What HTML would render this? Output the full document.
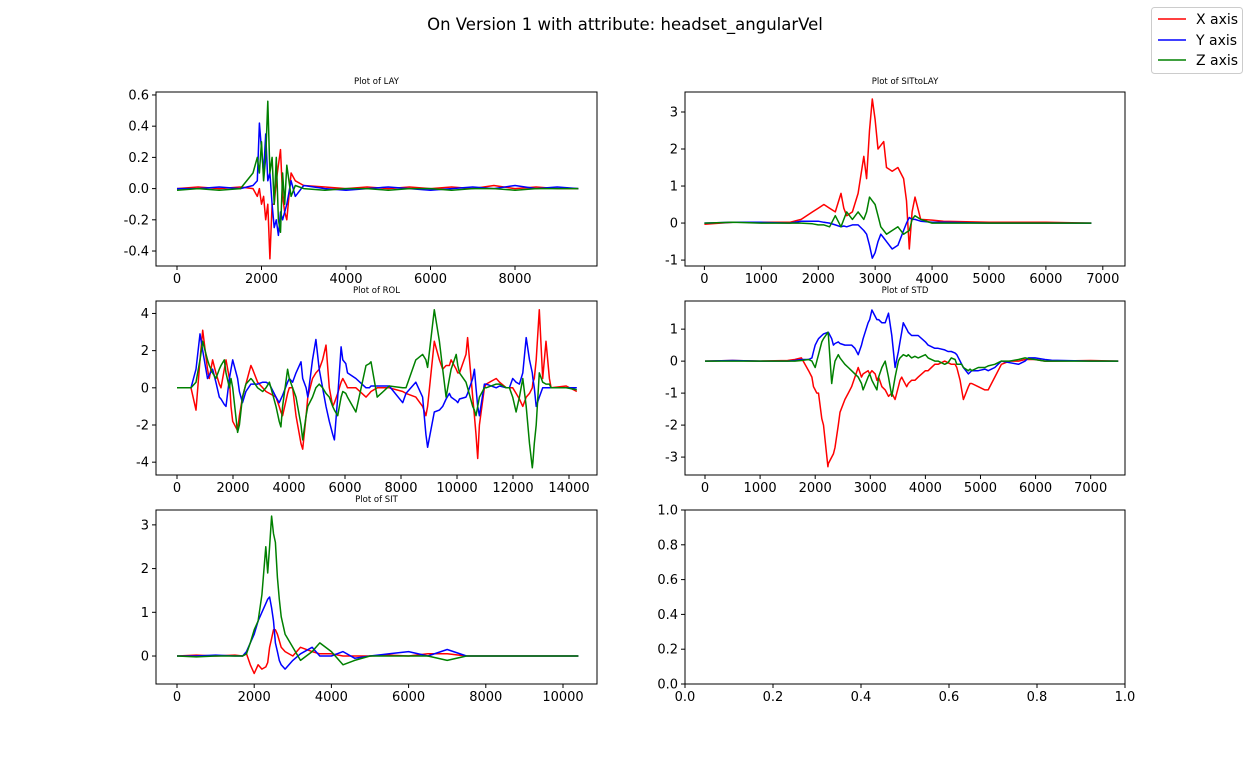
<!DOCTYPE html>
<html><head><meta charset="utf-8">
<style>
body{margin:0;background:#fff;}
svg{display:block;font-family:"DejaVu Sans","Liberation Sans",sans-serif;}
</style></head>
<body>
<svg id="fig" width="1250" height="768" viewBox="0 0 1250 768">
<text x="625" y="30" text-anchor="middle" font-size="16.5">On Version 1 with attribute: headset_angularVel</text>
<g>
<rect x="1151.5" y="7.5" width="91" height="66" rx="3" fill="#fff" stroke="#ccc"/>
<line x1="1158" y1="19" x2="1186" y2="19" stroke="red" stroke-width="1.5"/><text x="1196" y="24" font-size="14">X axis</text>
<line x1="1158" y1="40" x2="1186" y2="40" stroke="blue" stroke-width="1.5"/><text x="1196" y="45" font-size="14">Y axis</text>
<line x1="1158" y1="60" x2="1186" y2="60" stroke="green" stroke-width="1.5"/><text x="1196" y="65" font-size="14">Z axis</text>
</g>
</svg>
<script>
// ---- data ----
const layT=[0,500,1000,1500,1800,1900,1950,2000,2050,2100,2150,2200,2250,2300,2350,2400,2450,2500,2550,2600,2700,2800,3000,3500,4000,4500,5000,5500,6000,6500,7000,7500,8000,8500,9000,9500];
const layX=[0,0.01,0,0.01,0,-0.05,0,-0.1,-0.05,-0.2,-0.1,-0.45,-0.1,-0.1,0.05,0.15,0.25,-0.05,-0.15,-0.2,0.1,0.05,0.02,0.01,0,0.01,0,0.01,0,0.01,0,0.02,0,0.01,0,0];
const layY=[0,0,0.01,0,0.02,0.05,0.42,0.25,0.1,0.35,0.05,0.1,-0.1,-0.25,-0.2,-0.3,-0.15,-0.2,-0.15,-0.1,0.05,-0.05,0.02,0,-0.01,0,0.01,0,-0.01,0,0.01,0,0.02,0,0.01,0];
const layZ=[-0.01,0,-0.01,0,0.1,0.2,0.1,0.3,0.05,0.2,0.56,0.1,0.2,-0.1,0.2,-0.2,-0.28,0.1,-0.1,0.15,-0.05,0.02,0,-0.01,0,0,-0.01,0,0,-0.01,0,0,-0.01,0,0,0];

const sitlT=[0,500,1000,1500,1700,1900,2000,2100,2200,2300,2400,2450,2500,2600,2700,2800,2850,2900,2950,3000,3050,3100,3150,3200,3300,3400,3500,3550,3600,3650,3700,3800,4000,4200,5000,6000,6800];
const sitlX=[-0.03,0.02,0.02,0.02,0.1,0.3,0.4,0.5,0.4,0.3,0.8,0.4,0.2,0.3,0.8,1.8,1.2,2.5,3.35,2.8,2.0,2.1,2.2,1.5,1.4,1.5,1.2,0.6,-0.7,0.3,0.7,0.1,0.08,0.05,0.02,0.02,0];
const sitlY=[0,0.02,0.02,0,0.05,0.05,0.05,0.02,0,-0.05,-0.1,-0.08,-0.1,-0.05,-0.05,-0.2,-0.3,-0.6,-0.95,-0.8,-0.5,-0.3,-0.4,-0.5,-0.7,-0.6,-0.2,0,0.15,0.1,0.1,0.05,0.02,0.02,0,0,0];
const sitlZ=[0,0.02,0,0,0,-0.02,-0.05,-0.05,-0.1,0.2,-0.1,0.1,0.3,0.1,0.3,0.1,0.3,0.7,0.6,0.5,0.2,-0.1,-0.2,-0.3,-0.2,-0.1,-0.3,-0.25,-0.2,0.1,0.2,0.1,0,0,0,0,0];

const rolT=[0,500,680,820,917,1090,1155,1270,1390,1510,1570,1690,1750,1870,1930,1990,2165,2230,2340,2460,2640,2700,2880,3060,3180,3300,3535,3650,3710,3770,3950,4010,4130,4250,4430,4490,4610,4670,4840,4960,5080,5200,5320,5440,5560,5620,5740,5860,5920,6030,6090,6390,6750,6870,6930,7150,7580,8060,8180,8530,8770,8890,8950,9190,9370,9490,9610,9730,9790,9970,10030,10090,10320,10380,10560,10620,10680,10740,10800,10980,11040,11400,11520,11760,11870,11990,12110,12230,12350,12470,12590,12690,12710,12760,12830,12940,13060,13180,13300,13360,13900,14280];
const rolX=[0,0,-1.2,1.5,3.1,1.0,0.5,1.5,0.8,0.2,0,1.0,1.5,0.5,-1.0,-1.8,-2.3,-1.5,-0.5,0.2,1.2,1.0,0.3,0,-0.2,-0.3,-0.5,-1.0,-1.3,-1.5,-0.3,0,0,-1.5,-3.0,-3.3,-1.5,-0.5,0.5,0.8,1.0,1.5,2.3,0,-1.0,-0.8,-0.3,0.3,0.5,0.2,0,0,-0.5,-0.3,-0.2,0,0,-0.2,-0.3,-0.5,-1.0,-1.5,-1.0,2.5,1.5,1.0,1.2,1.2,1.5,1.0,0.8,0.8,1.8,2.7,-0.5,-1.5,-2.5,-3.8,-2.0,0,0.2,0.5,0.3,0,0,0,-0.3,-0.6,-1.0,-0.5,-0.3,0,0.3,0.5,1.5,4.2,0.5,2.5,0.5,0,0.1,-0.2];
const rolY=[0,0,1.0,2.9,2.0,0.5,0.7,1.0,0.3,-0.5,-0.6,-0.9,-1.0,0.5,1.0,1.5,0.5,-0.2,-0.8,-0.2,0.2,0.2,0.2,0.3,0.3,0.2,-0.5,-0.8,-0.6,-0.4,0.3,0.5,0.3,0.8,1.4,0.5,0,-0.5,1.5,2.6,1.0,0,-1.0,-1.8,-2.5,-2.8,-0.5,2.2,1.5,1.3,0.8,0.5,0,0,0.1,0.1,0.1,-0.8,-0.3,0.3,-0.5,-2.5,-3.2,-1.3,-1.2,-1.0,-0.6,-0.3,-0.5,-0.7,-0.8,-0.6,-0.5,-0.3,0.5,1.0,0,-1.0,-1.5,0.2,0.2,0,0.1,0,0,0.5,0.3,0.2,0.8,2.7,1.5,0.8,0.5,0,-1.0,-0.5,0,0,0,0,0,0];
const rolZ=[0,0,0.3,1.5,2.5,1.5,1.2,0.8,0.5,1.0,1.2,1.5,0.8,0,0.5,0,-2.4,-2.0,-0.5,0.2,0.5,0.4,0,-0.2,0,0.3,-1.0,-1.8,-2.1,-1.0,1.0,0.5,0,-0.5,-2.0,-2.8,-1.5,-1.0,-0.5,0,0.2,0,-0.3,-0.5,-1.0,-1.2,-1.5,-0.5,-0.2,-0.3,-0.5,-1.3,1.2,1.3,1.4,-0.5,0.1,0,0,1.5,1.8,1.5,1.1,4.2,2.5,1.0,-0.5,0.5,1.0,1.8,1.2,0.8,0.3,0,-1.0,-1.2,-1.5,-1.0,-0.5,0,0,0.2,0.2,0,0,-0.5,-1.3,-0.5,0.5,-1.0,-3.0,-4.3,-4.0,-3.0,-2.0,0.8,0.3,0.2,0.2,0,0,-0.1];

const stdT=[0,500,1000,1500,1630,1750,1880,1940,1970,2000,2030,2060,2120,2150,2230,2240,2300,2330,2360,2420,2450,2540,2600,2660,2720,2780,2840,2870,2960,2990,3030,3090,3120,3150,3210,3270,3330,3390,3450,3510,3540,3570,3600,3660,3690,3750,3810,3870,4000,4050,4170,4230,4350,4410,4470,4540,4570,4630,4660,4690,4780,4810,4840,4960,5080,5140,5260,5380,5530,5690,5810,5870,5990,6170,6290,7000,7500];
const stdX=[0,0.02,0,0.02,0.05,0.1,-0.3,-0.5,-0.8,-0.9,-1.0,-1.0,-1.8,-2.0,-3.3,-3.2,-3.0,-2.9,-2.7,-2.0,-1.6,-1.2,-1.0,-0.8,-0.5,-0.2,-0.5,-0.4,-0.3,-0.4,-0.3,-0.4,-0.6,-0.5,-0.8,-0.9,-1.1,-1.0,-1.2,-0.8,-0.6,-0.5,-0.6,-0.8,-0.7,-0.6,-0.6,-0.5,-0.3,-0.3,-0.1,-0.1,0,-0.05,-0.1,-0.1,-0.2,-0.6,-0.9,-1.2,-0.8,-0.7,-0.7,-0.8,-0.9,-0.9,-0.5,-0.1,0,0,0.05,0.05,0.05,0,0,0.02,0];
const stdY=[0,0.02,0,0,0.02,0.05,0.05,0.1,0.3,0.5,0.6,0.7,0.8,0.85,0.9,0.9,0.7,0.5,0.55,0.6,0.55,0.5,0.5,0.5,0.4,0.2,0.5,0.7,1.2,1.3,1.6,1.4,1.3,1.3,1.2,1.2,1.5,0.8,-0.2,0.3,0.6,0.9,1.2,1.0,0.9,0.8,0.8,0.8,0.6,0.5,0.4,0.4,0.35,0.3,0.3,0.25,0.2,0.0,-0.1,-0.2,-0.4,-0.35,-0.3,-0.3,-0.25,-0.3,-0.2,0,-0.05,-0.1,0,0.1,0.1,0.05,0.03,0,0];
const stdZ=[0,0,0,0,0,0.02,0.05,0,-0.1,-0.2,0,0.2,0.6,0.7,0.9,0.8,-0.7,-0.3,0,0.2,0.1,-0.1,-0.2,-0.3,-0.4,-0.5,-0.7,-0.9,-0.5,-0.4,-0.6,-0.8,-0.9,-0.5,-0.2,0,-0.5,-1.1,-0.5,0,0.1,0.15,0.2,0.15,0.2,0.1,0.15,0.1,0.2,0.1,0,0,-0.1,-0.05,0.1,0.05,-0.1,-0.1,-0.1,-0.2,-0.3,-0.25,-0.3,-0.2,-0.2,-0.15,-0.1,0,0,0.05,0.1,0.08,0.05,0,0,0,0];

const sitT=[0,500,1000,1500,1700,1800,1900,2000,2100,2200,2300,2350,2400,2450,2500,2550,2600,2650,2700,2800,3000,3200,3500,3700,4000,4300,4600,5000,5500,6000,6500,7000,7500,8000,9000,10400];
const sitX=[0,0.02,0,0.02,0,0.05,-0.2,-0.4,-0.2,-0.3,-0.25,-0.15,0.2,0.4,0.6,0.6,0.5,0.35,0.2,0.1,0,0.2,0.1,0.05,0.05,0,0,0,0.02,0,0.05,0.05,0,0,0,0];
const sitY=[0,0,0.02,0,0,0.1,0.3,0.5,0.8,1.0,1.2,1.3,1.35,1.1,0.8,0.3,0.1,-0.1,-0.2,-0.3,-0.1,0.05,0.2,0,0,0.1,-0.05,0,0.05,0.1,0,0.15,0,0,0,0];
const sitZ=[0,-0.02,0,0,0,0.05,0.3,0.6,0.8,1.4,2.5,1.9,2.5,3.2,2.8,2.6,1.8,1.3,0.9,0.5,0.2,-0.1,0.1,0.3,0.1,-0.2,-0.1,0,0,0,0,-0.1,0,0,0,0];

const layTicksX=[0,2000,4000,6000,8000], layTicksY=[-0.4,-0.2,0.0,0.2,0.4,0.6];
const sitlTicksX=[0,1000,2000,3000,4000,5000,6000,7000], sitlTicksY=[-1,0,1,2,3];
const rolTicksX=[0,2000,4000,6000,8000,10000,12000,14000], rolTicksY=[-4,-2,0,2,4];
const stdTicksX=[0,1000,2000,3000,4000,5000,6000,7000], stdTicksY=[-3,-2,-1,0,1];
const sitTicksX=[0,2000,4000,6000,8000,10000], sitTicksY=[0,1,2,3];
const emptyTicks=[0.0,0.2,0.4,0.6,0.8,1.0];

const NS="http://www.w3.org/2000/svg";
const fig=document.getElementById('fig');
function mk(tag,attrs,parent){const e=document.createElementNS(NS,tag);for(const k in attrs)e.setAttribute(k,attrs[k]);(parent||fig).appendChild(e);return e;}
function fmt(v,dec){return dec>0?v.toFixed(dec):String(v);}

function panel(name,title,box,xd,yd,xt,yt,ydec,series,xdec){
  const g=mk('g',{});
  
  
  const [L,T,R,B]=box;
  const sx=v=>L+(v-xd[0])/(xd[1]-xd[0])*(R-L);
  const sy=v=>B-(v-yd[0])/(yd[1]-yd[0])*(B-T);
  if(title){
    const tt=mk('text',{x:(L+R)/2,y:T-8,'text-anchor':'middle','font-size':'8.5'},g);
    tt.textContent=title;
    
    
  }
  const colors=['red','blue','green'];
  series.forEach((s,i)=>{
    const [tx,vals]=s;
    const d=vals.map((v,j)=>(j?'L':'M')+sx(tx[j]).toFixed(1)+','+sy(v).toFixed(1)).join('');
    const p=mk('path',{d:d,fill:'none',stroke:colors[i],'stroke-width':'1.5','stroke-linejoin':'round'},g);
    
    
  });
  const fr=mk('rect',{x:L,y:T,width:R-L,height:B-T,fill:'none',stroke:'#000','stroke-width':'1'},g);
  
  
  xt.forEach(v=>{
    const x=sx(v);
    mk('line',{x1:x,y1:B,x2:x,y2:B+4,stroke:'#000'},g);
    const t=mk('text',{x:x,y:B+17,'text-anchor':'middle','font-size':'13'},g);
    t.textContent=fmt(v,xdec||0);
    
    
  });
  yt.forEach(v=>{
    const y=sy(v);
    mk('line',{x1:L-4,y1:y,x2:L,y2:y,stroke:'#000'},g);
    const t=mk('text',{x:L-7,y:y+4.5,'text-anchor':'end','font-size':'13'},g);
    t.textContent=fmt(v,ydec);
    
    
  });
}
panel('panel-lay','Plot of LAY',[156,92,597,266],[-497,9941],[-0.496,0.619],layTicksX,layTicksY,1,[[layT,layX],[layT,layY],[layT,layZ]]);
panel('panel-sittolay','Plot of SITtoLAY',[685,92,1125,266],[-341,7390],[-1.16,3.54],sitlTicksX,sitlTicksY,0,[[sitlT,sitlX],[sitlT,sitlY],[sitlT,sitlZ]]);
panel('panel-rol','Plot of ROL',[156,301,597,475],[-750,15000],[-4.69,4.67],rolTicksX,rolTicksY,0,[[rolT,rolX],[rolT,rolY],[rolT,rolZ]]);
panel('panel-std','Plot of STD',[685,301,1125,475],[-363,7623],[-3.56,1.88],stdTicksX,stdTicksY,0,[[stdT,stdX],[stdT,stdY],[stdT,stdZ]]);
panel('panel-sit','Plot of SIT',[156,510,597,684],[-544,10881],[-0.64,3.34],sitTicksX,sitTicksY,0,[[sitT,sitX],[sitT,sitY],[sitT,sitZ]]);
panel('panel-empty','',[685,510,1125,684],[0,1],[0,1],emptyTicks,emptyTicks,1,[],1);
</script>
</body></html>
